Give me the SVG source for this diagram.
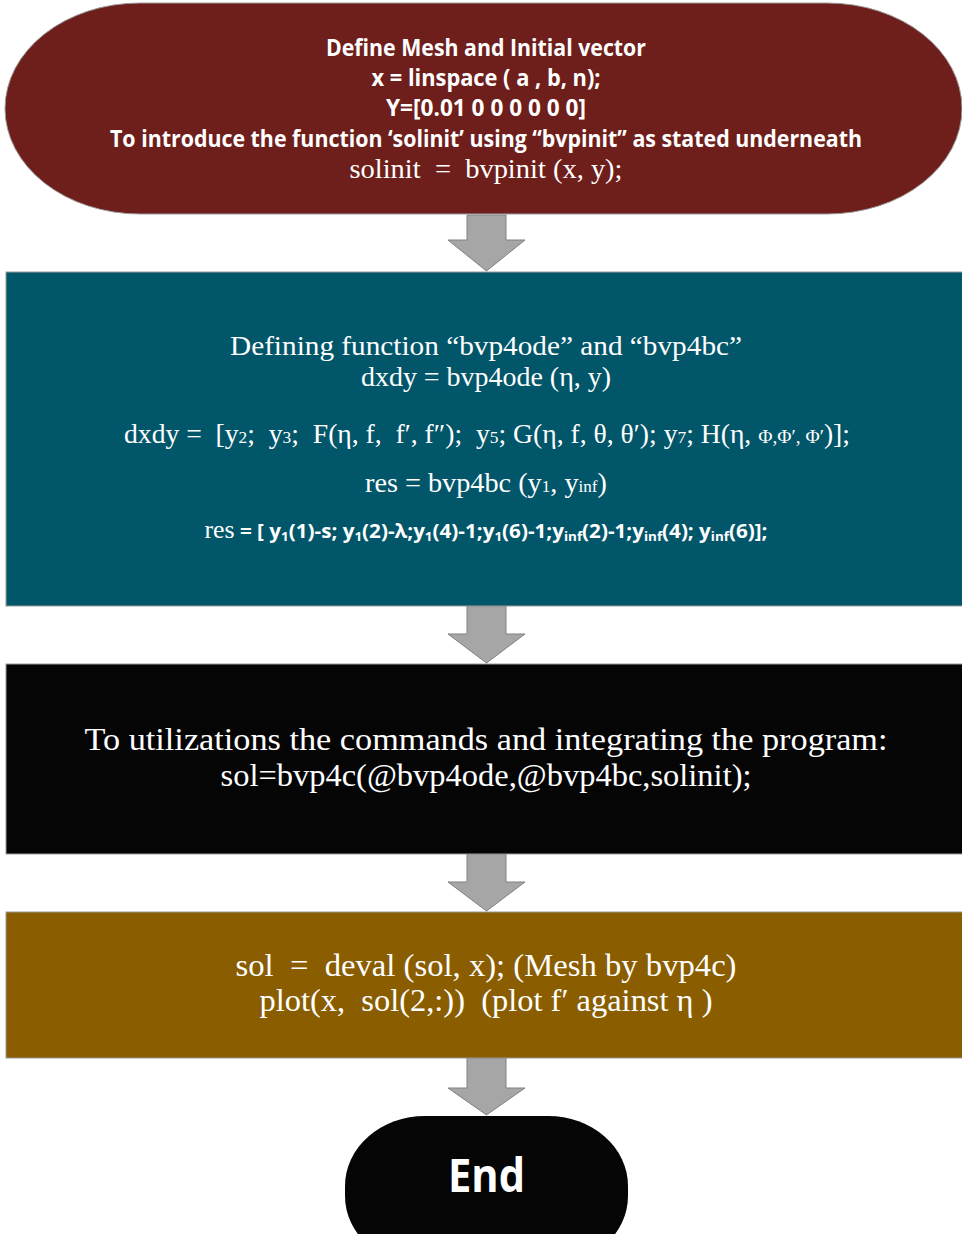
<svg xmlns="http://www.w3.org/2000/svg" width="962" height="1234" viewBox="0 0 962 1234">
<style>
text{white-space:pre}
.sans{font-family:"Open Sans","Liberation Sans",sans-serif;font-weight:bold;fill:#fff}
.serif{font-family:"Liberation Serif","DejaVu Serif",serif;fill:#fff}
.arrow{fill:#a6a6a6;stroke:#808080;stroke-width:1}
.box{stroke:#9a9a9a;stroke-width:1}
</style>
<rect width="962" height="1234" fill="#fff"/>
<g id="connectors">
<path class="arrow" d="M467,215 H506 V240 H525 L486.5,271 L448,240 H467 Z"/>
<path class="arrow" d="M467,606 H506 V634 H525 L486.5,663 L448,634 H467 Z"/>
<path class="arrow" d="M467,854 H506 V882 H525 L486.5,911 L448,882 H467 Z"/>
<path class="arrow" d="M467,1058 H506 V1088 H525 L486.5,1115 L448,1088 H467 Z"/>
</g>
<g id="start">
<rect class="box" x="5" y="3" width="957" height="211" rx="135" ry="105.5" fill="#6e1f1c"/>
<text class="sans" x="486" y="56" font-size="23" text-anchor="middle" textLength="320" lengthAdjust="spacingAndGlyphs">Define Mesh and Initial vector</text>
<text class="sans" x="486" y="86" font-size="23" text-anchor="middle" textLength="229" lengthAdjust="spacingAndGlyphs">x = linspace ( a , b, n);</text>
<text class="sans" x="486" y="116" font-size="23" text-anchor="middle" textLength="200" lengthAdjust="spacingAndGlyphs">Y=[0.01 0 0 0 0 0 0]</text>
<text class="sans" x="486" y="147" font-size="23" text-anchor="middle" textLength="752" lengthAdjust="spacingAndGlyphs">To introduce the function ‘solinit’ using “bvpinit” as stated underneath</text>
<text class="serif" x="486" y="178" font-size="28" text-anchor="middle" textLength="273" lengthAdjust="spacingAndGlyphs">solinit  =  bvpinit (x, y);</text>
</g>
<g id="define">
<rect class="box" x="6" y="272" width="962" height="334" fill="#02566a"/>
<text class="serif" x="486" y="355" font-size="28" text-anchor="middle" textLength="512" lengthAdjust="spacingAndGlyphs">Defining function “bvp4ode” and “bvp4bc”</text>
<text class="serif" x="486" y="386" font-size="28" text-anchor="middle" textLength="250" lengthAdjust="spacingAndGlyphs">dxdy = bvp4ode (η, y)</text>
<text class="serif" x="487" y="443" font-size="27" text-anchor="middle" textLength="726" lengthAdjust="spacingAndGlyphs">dxdy =  [y<tspan font-size="17">2</tspan>;  y<tspan font-size="17">3</tspan>;  F(η, f,  f′, f″);  y<tspan font-size="17">5</tspan>; G(η, f, θ, θ′); y<tspan font-size="17">7</tspan>; H(η, <tspan font-size="19">Φ,Φ′, Φ′</tspan>)];</text>
<text class="serif" x="486" y="492" font-size="28" text-anchor="middle" textLength="242" lengthAdjust="spacingAndGlyphs">res = bvp4bc (y<tspan font-size="17">1</tspan>, y<tspan font-size="17">inf</tspan>)</text>
<text x="486" y="538" font-size="20" text-anchor="middle" textLength="563" lengthAdjust="spacingAndGlyphs" fill="#fff"><tspan class="serif" font-size="25">res</tspan><tspan class="sans"> = [ y<tspan font-size="13" dy="3">1</tspan><tspan dy="-3">(1)-s; y</tspan><tspan font-size="13" dy="3">1</tspan><tspan dy="-3">(2)-λ;y</tspan><tspan font-size="13" dy="3">1</tspan><tspan dy="-3">(4)-1;y</tspan><tspan font-size="13" dy="3">1</tspan><tspan dy="-3">(6)-1;y</tspan><tspan font-size="13" dy="3">inf</tspan><tspan dy="-3">(2)-1;y</tspan><tspan font-size="13" dy="3">inf</tspan><tspan dy="-3">(4); y</tspan><tspan font-size="13" dy="3">inf</tspan><tspan dy="-3">(6)];</tspan></tspan></text>
</g>
<g id="integrate">
<rect class="box" x="6" y="664" width="962" height="190" fill="#050505"/>
<text class="serif" x="486" y="750" font-size="32" text-anchor="middle" textLength="803" lengthAdjust="spacingAndGlyphs">To utilizations the commands and integrating the program:</text>
<text class="serif" x="486" y="786" font-size="32" text-anchor="middle" textLength="531" lengthAdjust="spacingAndGlyphs">sol=bvp4c(@bvp4ode,@bvp4bc,solinit);</text>
</g>
<g id="plot">
<rect class="box" x="6" y="912" width="962" height="146" fill="#8a5e00"/>
<text class="serif" x="486" y="976" font-size="32" text-anchor="middle" textLength="501" lengthAdjust="spacingAndGlyphs">sol  =  deval (sol, x); (Mesh by bvp4c)</text>
<text class="serif" x="486" y="1011" font-size="32" text-anchor="middle" textLength="453" lengthAdjust="spacingAndGlyphs">plot(x,  sol(2,:))  (plot f′ against η )</text>
</g>
<g id="end">
<rect x="345" y="1116" width="283" height="150" rx="80" ry="70" fill="#050505"/>
<text class="sans" x="486.5" y="1192" font-size="46" text-anchor="middle" textLength="77" lengthAdjust="spacingAndGlyphs">End</text>
</g>
</svg>
